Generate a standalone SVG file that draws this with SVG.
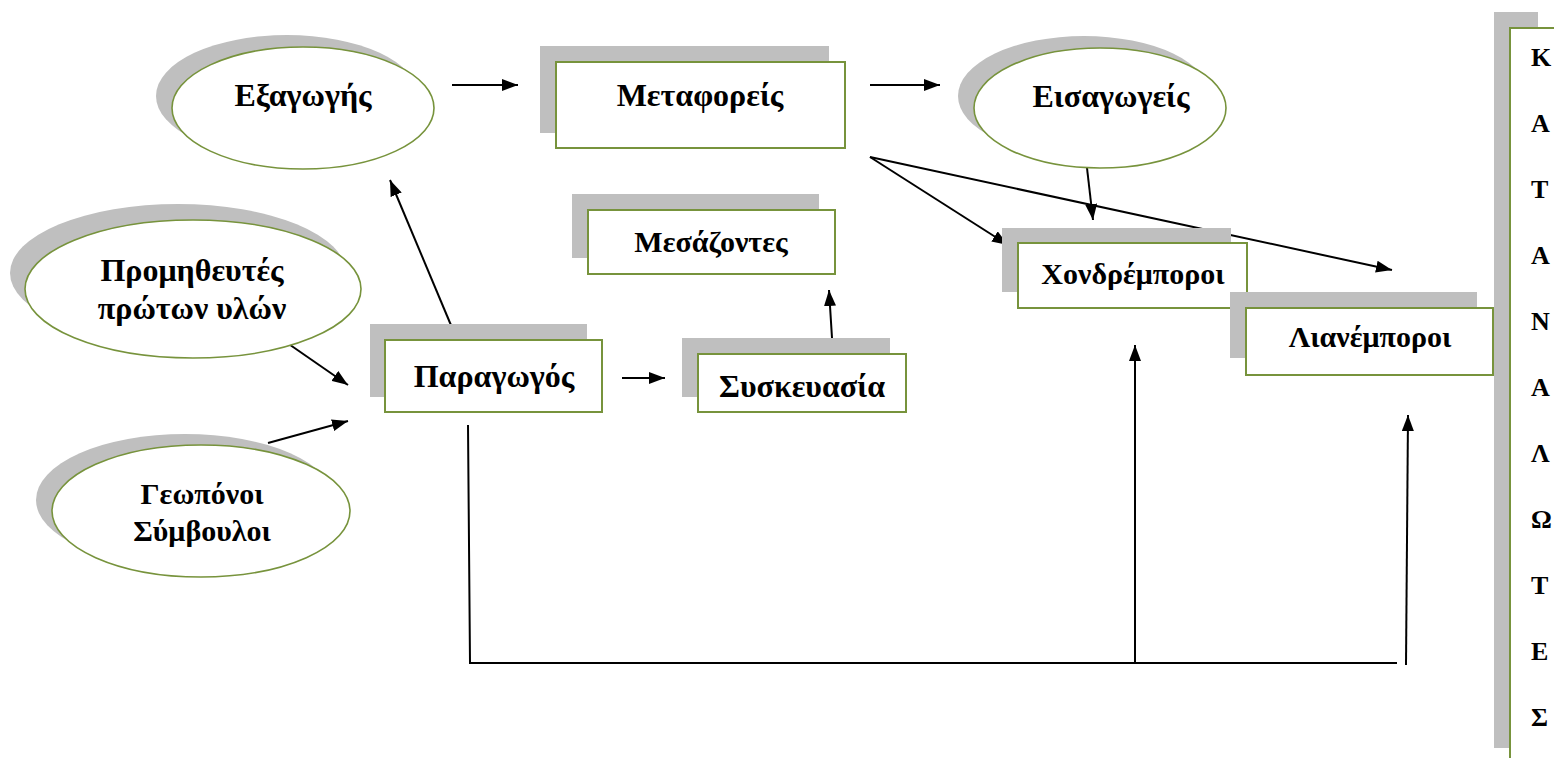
<svg xmlns="http://www.w3.org/2000/svg" width="1554" height="758" viewBox="0 0 1554 758">
<defs>
<style>
.sh{fill:#bfbfbf;stroke:none}
.bx{fill:#fff;stroke:#77933c;stroke-width:2}
.el{fill:#fff;stroke:#77933c;stroke-width:1.6}
.t{font-family:"Liberation Serif","Times New Roman",serif;font-weight:bold;font-size:32px;fill:#000;text-anchor:middle}
.ts{font-size:30px}
.k{font-family:"Liberation Serif","Times New Roman",serif;font-weight:bold;font-size:26px;fill:#000}
.c{fill:none;stroke:#000;stroke-width:2}
</style>
<marker id="ah" viewBox="0 0 16 12" refX="16" refY="6" markerWidth="16" markerHeight="12" orient="auto" markerUnits="userSpaceOnUse"><path d="M0,0 L16,6 L0,12 z" fill="#000"/></marker>
</defs>
<rect width="1554" height="758" fill="#fff"/>

<g id="connectors">
<line class="c" x1="452" y1="85" x2="518" y2="85" marker-end="url(#ah)"/>
<line class="c" x1="870" y1="85" x2="940" y2="85" marker-end="url(#ah)"/>
<line class="c" x1="453" y1="330" x2="390" y2="180" marker-end="url(#ah)"/>
<line class="c" x1="283" y1="340" x2="348" y2="385" marker-end="url(#ah)"/>
<line class="c" x1="268" y1="443" x2="348" y2="421" marker-end="url(#ah)"/>
<line class="c" x1="622" y1="378" x2="665" y2="378" marker-end="url(#ah)"/>
<line class="c" x1="833" y1="354" x2="829" y2="290" marker-end="url(#ah)"/>
<line class="c" x1="870" y1="157" x2="1008" y2="245" marker-end="url(#ah)"/>
<line class="c" x1="870" y1="157" x2="1392" y2="270" marker-end="url(#ah)"/>
<line class="c" x1="1087" y1="168" x2="1093" y2="220" marker-end="url(#ah)"/>
<polyline class="c" points="468,425 470,663 1397,663"/>
<line class="c" x1="1135" y1="663" x2="1135" y2="345" marker-end="url(#ah)"/>
<line class="c" x1="1406" y1="665" x2="1408" y2="415" marker-end="url(#ah)"/>
</g>

<g id="exagogis">
<ellipse class="sh" cx="287" cy="96" rx="131" ry="61"/>
<ellipse class="el" cx="303" cy="108" rx="131" ry="61"/>
<text class="t" x="303" y="106">Εξαγωγής</text>
</g>

<g id="metaforeis">
<rect class="sh" x="540" y="46" width="289" height="87"/>
<rect class="bx" x="556" y="62" width="289" height="86"/>
<text class="t" x="700" y="106">Μεταφορείς</text>
</g>

<g id="eisagogeis">
<ellipse class="sh" cx="1084" cy="96" rx="126" ry="60"/>
<ellipse class="el" cx="1100" cy="108" rx="126" ry="60"/>
<text class="t" x="1111" y="107">Εισαγωγείς</text>
</g>

<g id="mesazontes">
<rect class="sh" x="572" y="194" width="247" height="64"/>
<rect class="bx" x="588" y="210" width="247" height="64"/>
<text class="t ts" x="711" y="252">Μεσάζοντες</text>
</g>

<g id="promitheutes">
<ellipse class="sh" cx="178" cy="273" rx="168" ry="69"/>
<ellipse class="el" cx="193" cy="289" rx="168" ry="69"/>
<text class="t" x="192" y="281">Προμηθευτές</text>
<text class="t" x="192" y="319">πρώτων υλών</text>
</g>

<g id="paragogos">
<rect class="sh" x="370" y="324" width="217" height="73"/>
<rect class="bx" x="385" y="340" width="217" height="72"/>
<text class="t" x="494" y="387">Παραγωγός</text>
</g>

<g id="syskeuasia">
<rect class="sh" x="682" y="338" width="208" height="59"/>
<rect class="bx" x="698" y="354" width="208" height="58"/>
<text class="t" x="802" y="397">Συσκευασία</text>
</g>

<g id="geoponoi">
<ellipse class="sh" cx="185" cy="500" rx="149" ry="66"/>
<ellipse class="el" cx="201" cy="511" rx="149" ry="66"/>
<text class="t ts" x="202" y="504">Γεωπόνοι</text>
<text class="t ts" x="202" y="541">Σύμβουλοι</text>
</g>

<g id="xondremporoi">
<rect class="sh" x="1002" y="228" width="229" height="64"/>
<rect class="bx" x="1018" y="243" width="229" height="65"/>
<text class="t ts" x="1133" y="284">Χονδρέμποροι</text>
</g>

<g id="lianemporoi">
<rect class="sh" x="1230" y="292" width="247" height="66"/>
<rect class="bx" x="1246" y="308" width="247" height="67"/>
<text class="t ts" x="1370" y="347">Λιανέμποροι</text>
</g>

<g id="katanalotes">
<rect class="sh" x="1494" y="12" width="44" height="736"/>
<rect class="bx" x="1510" y="28" width="60" height="740"/>
<text class="k" x="1531" y="66">Κ</text>
<text class="k" x="1531" y="132">Α</text>
<text class="k" x="1531" y="198">Τ</text>
<text class="k" x="1531" y="264">Α</text>
<text class="k" x="1531" y="330">Ν</text>
<text class="k" x="1531" y="396">Α</text>
<text class="k" x="1531" y="462">Λ</text>
<text class="k" x="1531" y="528">Ω</text>
<text class="k" x="1531" y="594">Τ</text>
<text class="k" x="1531" y="660">Ε</text>
<text class="k" x="1531" y="726">Σ</text>
</g>
</svg>
